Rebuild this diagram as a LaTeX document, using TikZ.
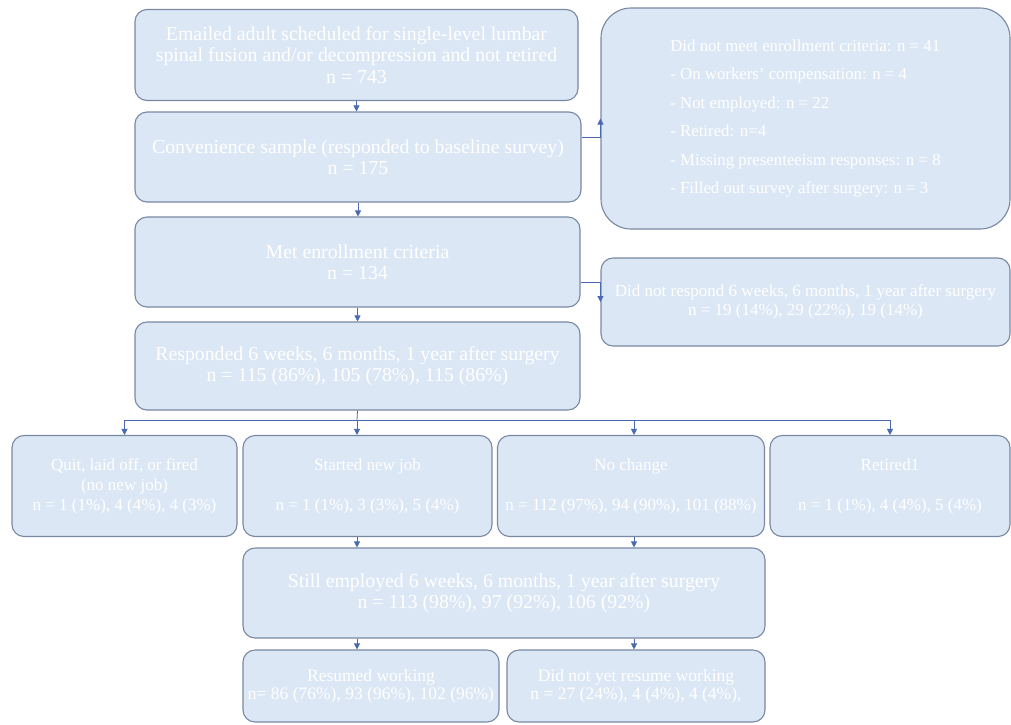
\documentclass[tikz,border=0pt]{standalone}
\usepackage{fontspec}
\setmainfont{Liberation Serif}
\usepackage{tikz}
\usetikzlibrary{arrows.meta}
\definecolor{boxfill}{RGB}{219,231,245}
\definecolor{boxline}{RGB}{120,136,162}
\definecolor{arrowblue}{RGB}{74,105,176}
\tikzset{
  flowbox/.style={draw=boxline, fill=boxfill, line width=1.1pt, rounded corners=12pt,
    inner sep=0pt, align=center, text=white, font=\fontsize{19.8}{21.5}\selectfont},
  midbox/.style={flowbox, font=\fontsize{17}{20}\selectfont},
  sidebox/.style={flowbox, font=\fontsize{17}{19}\selectfont},
  arr/.style={draw=arrowblue, line width=0.8pt, -{Triangle[width=6pt,length=6pt]}},
  bus/.style={draw=arrowblue, line width=0.8pt}
}
\begin{document}
\begin{tikzpicture}[x=1pt, y=-1pt]
    \useasboundingbox (0,0) rectangle (1011,724);
    \node[flowbox, minimum width=443pt, minimum height=91pt] (email) at (356.5,55)
        {Emailed adult scheduled for single-level lumbar\\spinal fusion and/or decompression and not retired\\n = 743};
    \node[flowbox, minimum width=446pt, minimum height=90pt] (conv) at (358,157)
        {Convenience sample (responded to baseline survey)\\n = 175};
    \node[sidebox, rounded corners=30pt, minimum width=409pt, minimum height=221pt,
        align=left, font=\fontsize{16.8}{28.5}\selectfont] (excl) at (805.5,118.5)
        {Did not meet enrollment criteria: n = 41\\
         - On workers' compensation: n = 4\\
         - Not employed: n = 22\\
         - Retired: n=4\\
         - Missing presenteeism responses: n = 8\\
         - Filled out survey after surgery: n = 3};
    \node[flowbox, minimum width=445pt, minimum height=90pt] (crit) at (357.5,262)
        {Met enrollment criteria\\n = 134};
    \node[sidebox, minimum width=409pt, minimum height=88pt] (noresp) at (805.5,302)
        {Did not respond 6 weeks, 6 months, 1 year after surgery\\n = 19 (14\%), 29 (22\%), 19 (14\%)};
    \node[flowbox, minimum width=445pt, minimum height=88pt] (resp) at (357.5,366)
        {Responded 6 weeks, 6 months, 1 year after surgery\\n = 115 (86\%), 105 (78\%), 115 (86\%)};
    \node[midbox, minimum width=225pt, minimum height=101pt] (quit) at (124.5,486)
        {Quit, laid off, or fired\\(no new job)\\n = 1 (1\%), 4 (4\%), 4 (3\%)};
    \node[midbox, minimum width=249pt, minimum height=101pt] (newjob) at (367.5,486)
        {Started new job\\~\\n = 1 (1\%), 3 (3\%), 5 (4\%)};
    \node[midbox, minimum width=267pt, minimum height=101pt] (nochange) at (631,486)
        {No change\\~\\n = 112 (97\%), 94 (90\%), 101 (88\%)};
    \node[midbox, minimum width=240pt, minimum height=101pt] (retired) at (890,486)
        {Retired1\\~\\n = 1 (1\%), 4 (4\%), 5 (4\%)};
    \node[flowbox, minimum width=522pt, minimum height=90pt] (employed) at (504,593)
        {Still employed 6 weeks, 6 months, 1 year after surgery\\n = 113 (98\%), 97 (92\%), 106 (92\%)};
    \node[midbox, minimum width=256pt, minimum height=72pt, font=\fontsize{17.5}{18}\selectfont] (resumed) at (371,686)
        {Resumed working\\n= 86 (76\%), 93 (96\%), 102 (96\%)};
    \node[midbox, minimum width=258pt, minimum height=72pt, font=\fontsize{17.5}{18}\selectfont] (notyet) at (636,686)
        {Did not yet resume working\\n = 27 (24\%), 4 (4\%), 4 (4\%),};
    \coordinate (spine) at (357,420);
    \coordinate (right) at (634,0);
    \draw[arr] (email.south) -- (email.south |- conv.north);
    \draw[arr] (conv.south) -- (conv.south |- crit.north);
    \draw[arr] ([yshift=20pt]conv.east) -| (excl.west);
    \draw[arr] ([yshift=-20pt]crit.east) -| (noresp.west);
    \draw[arr] (crit.south) -- (crit.south |- resp.north);
    \draw[bus] (resp.south) -- (spine);
    \draw[bus] (spine -| quit.north) -- (spine -| retired.north);
    \draw[arr] (spine -| quit.north) -- (quit.north);
    \draw[arr] (spine) -- (spine |- newjob.north);
    \draw[arr] (spine -| right) -- (right |- nochange.north);
    \draw[arr] (spine -| retired.north) -- (retired.north);
    \draw[arr] (spine |- newjob.south) -- (spine |- employed.north);
    \draw[arr] (right |- nochange.south) -- (right |- employed.north);
    \draw[arr] (spine |- employed.south) -- (spine |- resumed.north);
    \draw[arr] (right |- employed.south) -- (right |- notyet.north);
\end{tikzpicture}
\end{document}
